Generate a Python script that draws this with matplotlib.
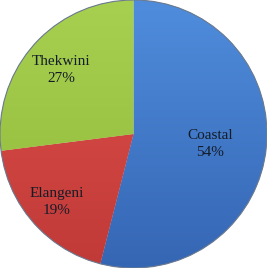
import matplotlib
matplotlib.use("Agg")
import matplotlib.pyplot as plt
import numpy as np
from matplotlib.colors import LinearSegmentedColormap

# Data
regions = ["Coastal", "Elangeni", "Thekwini"]
shares = [54, 19, 27]

# top / bottom colours of each wedge gradient
tops = ["#4f8ddc", "#e0504a", "#a8d050"]
bottoms = ["#3566b4", "#c03a38", "#8fb83a"]
label_dist = [0.58, 0.77, 0.72]

fig = plt.figure(figsize=(2.67, 2.73), dpi=100)
ax = fig.add_axes([0, 5 / 273, 1, 268 / 273])

wedges, texts = ax.pie(
    shares, labels=[f"{r}\n{s}%" for r, s in zip(regions, shares)],
    startangle=90, counterclock=False, radius=1.0,
    colors=bottoms, labeldistance=0.6,
    wedgeprops=dict(linewidth=0.8, edgecolor="#ffffff80"),
    textprops=dict(family="Liberation Serif", fontsize=11, color="#141c28",
                   ha="center", va="center", linespacing=1.4),
)

# gradient fill clipped to each wedge
grad = np.linspace(0, 1, 256).reshape(-1, 1)
for w, top, bot in zip(wedges, tops, bottoms):
    cmap = LinearSegmentedColormap.from_list("g", [bot, top])
    im = ax.imshow(grad, extent=[-1, 1, -1, 1], origin="lower", cmap=cmap,
                   aspect="auto", zorder=w.get_zorder() + 0.1)
    im.set_clip_path(w)

# reposition labels along each wedge's middle angle
for w, t, d in zip(wedges, texts, label_dist):
    ang = np.deg2rad((w.theta1 + w.theta2) / 2)
    t.set_position((d * np.cos(ang), d * np.sin(ang)))
    t.set_ha("center")
    t.set_zorder(5)

# thin rim outline
rim = plt.Circle((0, 0), 1.0, fill=False, lw=0.8, ec="#6a7a90", zorder=4)
ax.add_patch(rim)

ax.set_xlim(-1.0, 1.0)
ax.set_ylim(-1.0, 1.0)
ax.set_aspect("auto")
ax.axis("off")

fig.savefig("out.png", dpi=100)
